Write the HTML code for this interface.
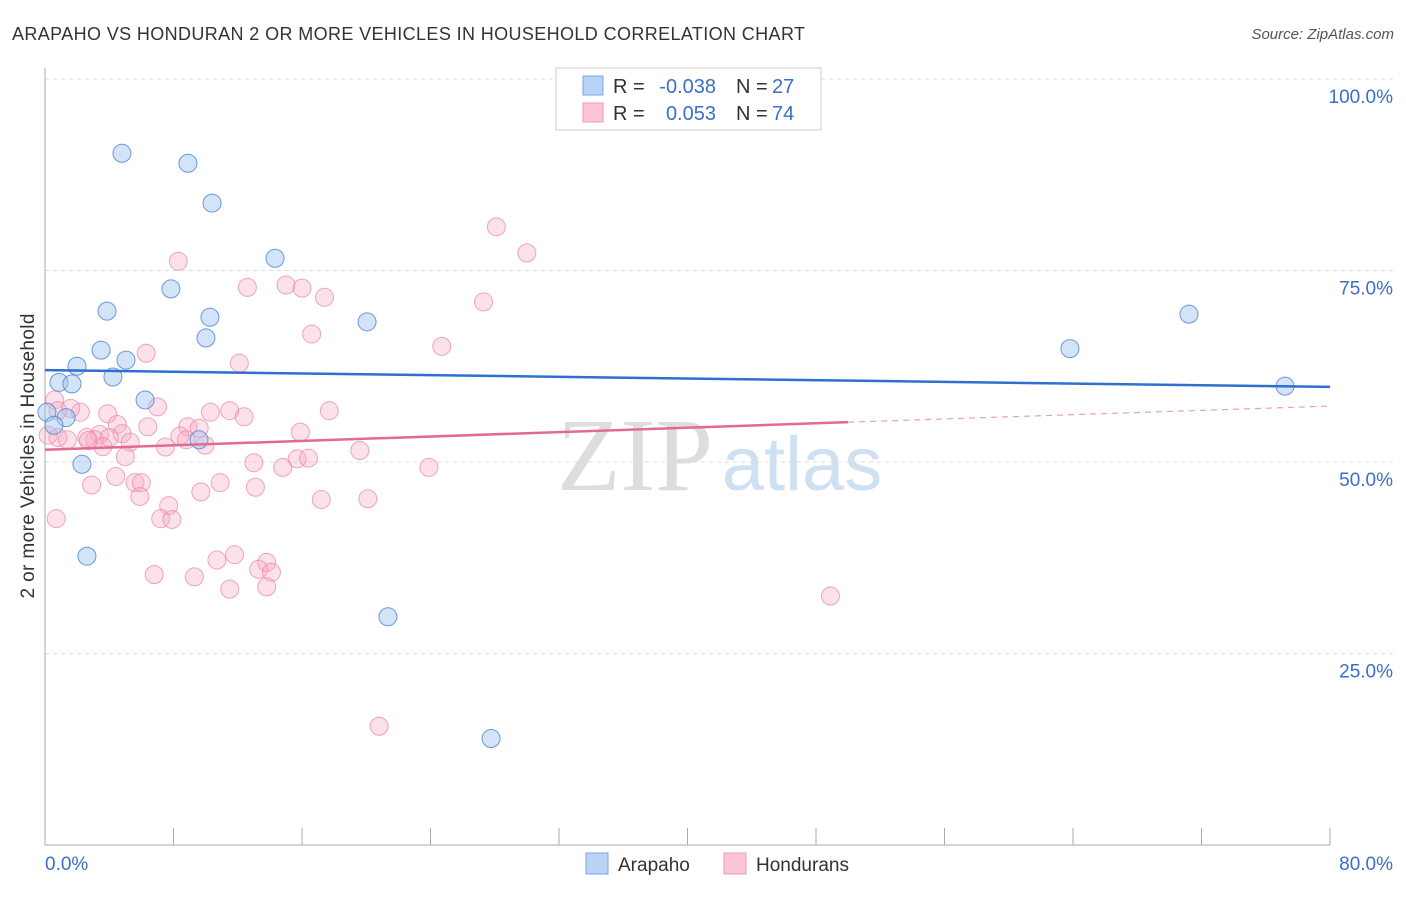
<!DOCTYPE html>
<html><head><meta charset="utf-8"><style>
body{margin:0;background:#fff;font-family:"Liberation Sans",sans-serif}
svg text{font-family:"Liberation Sans",sans-serif}
</style></head><body>
<svg id="c" width="1406" height="892">
<text x="12" y="40" font-size="18" fill="#333" textLength="793">ARAPAHO VS HONDURAN 2 OR MORE VEHICLES IN HOUSEHOLD CORRELATION CHART</text>
<text x="1394" y="39" font-size="15" fill="#555" text-anchor="end" font-style="italic">Source: ZipAtlas.com</text>
<text x="34" y="456" font-size="19" fill="#333" text-anchor="middle" textLength="285" transform="rotate(-90 34 456)">2 or more Vehicles in Household</text>
<g><text x="635" y="490" font-size="104" fill="#ddd" text-anchor="middle" style="font-family:'Liberation Serif'">ZIP</text><text x="802" y="490" font-size="76" fill="#cfe0f3" text-anchor="middle">atlas</text></g>
<g id="grid"></g><g id="pts"></g><g id="lines"></g>
<g>
<rect x="556" y="68" width="265" height="62" fill="#fff" stroke="#ccc"/>
<rect x="583" y="76" width="20" height="19" fill="#b8d3f5" stroke="#7aa7e0"/>
<rect x="583" y="103" width="20" height="19" fill="#fcc6d6" stroke="#ee9ab5"/>
<text x="613" y="93" font-size="20" fill="#333">R =</text>
<text x="716" y="93" font-size="20" fill="#3a6fc9" text-anchor="end">-0.038</text>
<text x="736" y="93" font-size="20" fill="#333">N =</text>
<text x="772" y="93" font-size="20" fill="#3a6fc9">27</text>
<text x="613" y="120" font-size="20" fill="#333">R =</text>
<text x="716" y="120" font-size="20" fill="#3a6fc9" text-anchor="end">0.053</text>
<text x="736" y="120" font-size="20" fill="#333">N =</text>
<text x="772" y="120" font-size="20" fill="#3a6fc9">74</text>
</g>
<g>
<rect x="586" y="853" width="22" height="21" fill="#b8d3f5" stroke="#7aa7e0"/>
<text x="618" y="871" font-size="19" fill="#333">Arapaho</text>
<rect x="724" y="853" width="22" height="21" fill="#fcc6d6" stroke="#ee9ab5"/>
<text x="756" y="871" font-size="19" fill="#333">Hondurans</text>
</g>
</svg>
<script>
const xTicks=[0,80];
const yTicks=[25,50,75,100];
const arapahoX=[4.79,8.9,10.4,14.32,7.84,3.86,10.27,10.02,20.05,3.49,5.04,1.99,4.23,0.87,1.68,6.23,0.12,1.31,0.56,2.3,9.59,2.61,21.35,27.77,63.81,71.22,77.2];
const arapahoY=[90.3,89.0,83.8,76.6,72.6,69.7,68.9,66.2,68.3,64.6,63.3,62.5,61.1,60.4,60.2,58.1,56.5,55.8,54.8,49.7,52.9,37.7,29.8,13.9,64.8,69.3,59.9];
const hondX=[28.1,30.0,8.3,12.6,15.0,16.0,17.4,27.3,16.6,6.3,24.7,12.1,0.6,0.8,2.2,1.6,3.9,7.0,10.3,11.5,12.4,17.7,4.5,6.4,8.9,3.4,4.8,0.8,1.4,2.6,3.1,4.0,8.4,9.6,8.8,5.3,7.5,9.96,3.6,15.9,5.0,13.0,15.7,16.4,14.8,23.9,4.4,2.9,5.6,6.0,10.9,13.1,5.9,9.7,17.2,20.1,7.7,7.2,7.9,0.7,11.8,10.7,13.8,13.3,14.1,6.8,9.3,11.5,13.8,48.9,20.8,0.2,2.7,19.6];
const hondY=[80.7,77.3,76.2,72.8,73.1,72.7,71.5,70.9,66.7,64.2,65.1,62.9,58.1,56.7,56.5,57.0,56.3,57.2,56.5,56.7,55.9,56.7,54.9,54.6,54.6,53.6,53.7,53.2,52.9,53.2,52.9,53.2,53.4,54.4,52.9,52.6,51.96,52.2,52.0,53.9,50.7,49.9,50.4,50.5,49.3,49.3,48.1,47.0,47.3,47.3,47.3,46.7,45.5,46.1,45.1,45.2,44.3,42.6,42.5,42.6,37.9,37.2,36.9,36.0,35.6,35.3,35.0,33.4,33.7,32.5,15.5,53.5,52.8,51.5];
const X=v=>45+v/80*1285, Y=v=>845-v/100*766;
const ns="http://www.w3.org/2000/svg";
function mk(t,a,p){const e=document.createElementNS(ns,t);for(const k in a)e.setAttribute(k,a[k]);p.appendChild(e);return e;}
const g=document.getElementById('grid');
yTicks.forEach(t=>{const l=mk('line',{x1:45,x2:1394,y1:Y(t),y2:Y(t),stroke:'#ddd','stroke-dasharray':'4,4'},g);

const tx=mk('text',{x:1393,y:Y(t)+24,'font-size':19,fill:'#3a6fc9','text-anchor':'end'},g);tx.textContent=t.toFixed(1)+'%';
});
mk('line',{x1:45,x2:45,y1:68,y2:845,stroke:'#aaa'},g);
mk('line',{x1:45,x2:1330,y1:845,y2:845,stroke:'#aaa'},g);
for(let i=0;i<=10;i++){const t=mk('line',{x1:X(i*8),x2:X(i*8),y1:828,y2:845,stroke:'#aaa'},g);}
xTicks.forEach((t,i)=>{const tx=mk('text',{x:i?1393:45,y:870,'font-size':19,fill:'#3a6fc9','text-anchor':i?'end':'start'},g);tx.textContent=t.toFixed(1)+'%';
});
const p=document.getElementById('pts');
hondX.forEach((x,i)=>{const c=mk('circle',{cx:X(x),cy:Y(hondY[i]),r:9,fill:'rgba(248,170,195,0.35)',stroke:'rgba(232,130,165,0.7)','stroke-width':1},p);
});
arapahoX.forEach((x,i)=>{const c=mk('circle',{cx:X(x),cy:Y(arapahoY[i]),r:9,fill:'rgba(160,195,240,0.45)',stroke:'rgba(70,130,210,0.8)','stroke-width':1},p);
});
const L=document.getElementById('lines');
let e=mk('line',{x1:X(0),y1:Y(62.0),x2:X(80),y2:Y(59.8),stroke:'#2f6fcf','stroke-width':2.5},L);

e=mk('line',{x1:X(0),y1:Y(51.6),x2:X(50),y2:Y(55.2),stroke:'#e06b93','stroke-width':2.5},L);

e=mk('line',{x1:X(50),y1:Y(55.2),x2:X(80),y2:Y(57.3),stroke:'#e8a0b8','stroke-width':1.2,'stroke-dasharray':'6,5'},L);

</script>
</body></html>
